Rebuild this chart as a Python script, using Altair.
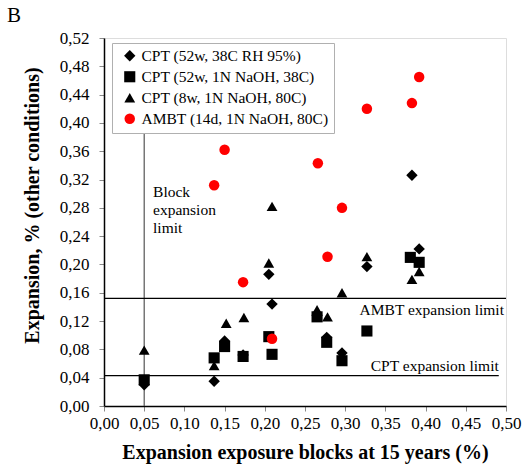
import altair as alt
import pandas as pd

series_names = [
    "CPT (52w, 38C RH 95%)",
    "CPT (52w, 1N NaOH, 38C)",
    "CPT (8w, 1N NaOH, 80C)",
    "AMBT (14d, 1N NaOH, 80C)",
]

# CPT 52w, 38C RH 95% (diamonds)
cpt_rh_x = [0.050, 0.137, 0.150, 0.173, 0.205, 0.209, 0.265, 0.277, 0.296, 0.327, 0.383, 0.392]
cpt_rh_y = [0.030, 0.035, 0.092, 0.072, 0.186, 0.144, 0.128, 0.097, 0.075, 0.197, 0.326, 0.222]

# CPT 52w, 1N NaOH, 38C (squares)
cpt_38_x = [0.050, 0.137, 0.150, 0.173, 0.205, 0.209, 0.265, 0.277, 0.296, 0.327, 0.381, 0.392]
cpt_38_y = [0.037, 0.068, 0.084, 0.070, 0.098, 0.073, 0.126, 0.090, 0.064, 0.106, 0.210, 0.203]

# CPT 8w, 1N NaOH, 80C (triangles)
cpt_80_x = [0.050, 0.137, 0.152, 0.174, 0.205, 0.209, 0.265, 0.278, 0.296, 0.327, 0.383, 0.392]
cpt_80_y = [0.079, 0.057, 0.117, 0.125, 0.202, 0.282, 0.136, 0.126, 0.160, 0.211, 0.179, 0.190]

# AMBT 14d (red circles)
ambt_x = [0.137, 0.150, 0.173, 0.209, 0.215, 0.266, 0.278, 0.296, 0.327, 0.383, 0.392]
ambt_y = [0.312, 0.362, 0.175, 0.095, 0.393, 0.343, 0.211, 0.280, 0.420, 0.428, 0.465]

x_ticks = [0.00, 0.05, 0.10, 0.15, 0.20, 0.25, 0.30, 0.35, 0.40, 0.45, 0.50]
y_ticks = [0.00, 0.04, 0.08, 0.12, 0.16, 0.20, 0.24, 0.28, 0.32, 0.36, 0.40, 0.44, 0.48, 0.52]

ambt_limit = 0.152
cpt_limit = 0.043
block_limit = 0.05

rows = []
idx = 0
for name, xs, ys in zip(series_names,
                        [cpt_rh_x, cpt_38_x, cpt_80_x, ambt_x],
                        [cpt_rh_y, cpt_38_y, cpt_80_y, ambt_y]):
    for xv, yv in zip(xs, ys):
        rows.append({"x": xv, "y": yv, "series": name, "idx": idx})
        idx += 1
df = pd.DataFrame(rows)

FONT = "Liberation Serif"
label_expr = "replace(format(datum.value, '.2f'), '.', ',')"

xscale = alt.Scale(domain=[0, 0.5], nice=False, zero=False)
yscale = alt.Scale(domain=[0, 0.52], nice=False, zero=False)

legend = alt.Legend(
    title=None, orient="none", legendX=8, legendY=5, direction="vertical",
    labelFont=FONT, labelFontSize=15.5, labelColor="black", labelLimit=400,
    strokeColor="#b0b0b0", fillColor="white", padding=5, rowPadding=4,
    symbolSize=100, symbolStrokeWidth=0, symbolOffset=5, labelOffset=4,
    cornerRadius=0,
)

xaxis = alt.Axis(values=x_ticks, labelExpr=label_expr, grid=False,
                 title="Expansion exposure blocks at 15 years (%)",
                 titleFontSize=20, titleFontWeight="bold", titleFont=FONT,
                 titleColor="black", titleY=46, titleBaseline="middle",
                 labelFontSize=17, labelFont=FONT, labelColor="black",
                 labelPadding=4, tickSize=5, tickColor="#8a8a8a",
                 domainColor="black", domainWidth=1.5, labelFlush=False,
                 labelOverlap=False)
yaxis = alt.Axis(values=y_ticks, labelExpr=label_expr, grid=False,
                 title="Expansion, % (other conditions)",
                 titleFontSize=20, titleFontWeight="bold", titleFont=FONT,
                 titleColor="black", titleX=-72, titleY=167, titleAngle=-90,
                 titleBaseline="middle", titleAlign="center",
                 labelFontSize=17, labelFont=FONT, labelColor="black",
                 labelPadding=10, tickSize=5, tickColor="#8a8a8a",
                 domainColor="black", domainWidth=1.5, labelFlush=False,
                 labelOverlap=False)

points = alt.Chart(df).mark_point(filled=True, opacity=1, strokeWidth=0).encode(
    x=alt.X("x:Q", scale=xscale, axis=xaxis),
    y=alt.Y("y:Q", scale=yscale, axis=yaxis),
    shape=alt.Shape("series:N",
                    scale=alt.Scale(domain=series_names,
                                    range=["diamond", "square", "triangle-up", "circle"]),
                    legend=legend),
    color=alt.Color("series:N",
                    scale=alt.Scale(domain=series_names,
                                    range=["black", "black", "black", "#ff0000"]),
                    legend=legend),
    size=alt.Size("series:O",
                  scale=alt.Scale(domain=series_names, range=[130, 110, 140, 175]),
                  legend=None),
    order=alt.Order("idx:Q"),
)

hlines_df = pd.DataFrame({
    "y": [ambt_limit, cpt_limit],
    "x": [0.0, 0.0],
    "x2": [0.5, 0.491],
})
hlines = alt.Chart(hlines_df).mark_rule(color="black", strokeWidth=1.3).encode(
    x=alt.X("x:Q", scale=xscale, axis=xaxis), x2="x2:Q",
    y=alt.Y("y:Q", scale=yscale, axis=yaxis))

vline_df = pd.DataFrame({"x": [block_limit], "y": [0.0], "y2": [0.397]})
vline = alt.Chart(vline_df).mark_rule(color="#555555", strokeWidth=1.2).encode(
    x=alt.X("x:Q", scale=xscale, axis=xaxis),
    y=alt.Y("y:Q", scale=yscale, axis=yaxis), y2="y2:Q")

ann_df = pd.DataFrame({
    "x": [0.4975, 0.491],
    "y": [0.136, 0.057],
    "t": ["AMBT expansion limit", "CPT expansion limit"],
})
ann = alt.Chart(ann_df).mark_text(align="right", baseline="middle", font=FONT,
                                  fontSize=15.5, color="black").encode(
    x=alt.X("x:Q", scale=xscale, axis=xaxis),
    y=alt.Y("y:Q", scale=yscale, axis=yaxis), text="t:N")

block_df = pd.DataFrame({"x": [0.061], "y": [0.312], "t": [["Block", "expansion", "limit"]]})
block = alt.Chart(block_df).mark_text(align="left", baseline="top", font=FONT,
                                      fontSize=15.5, lineHeight=18, color="black").encode(
    x=alt.X("x:Q", scale=xscale, axis=xaxis),
    y=alt.Y("y:Q", scale=yscale, axis=yaxis), text="t")

panel = alt.Chart(pd.DataFrame({"t": ["B"]})).mark_text(
    align="left", baseline="middle", font=FONT, fontSize=21, color="black").encode(
    x=alt.value(-97), y=alt.value(-22), text="t:N")

chart = alt.layer(vline, hlines, ann, block, points, panel).properties(
    width=402, height=368,
    autosize=alt.AutoSizeParams(type="none"),
    padding={"left": 104, "top": 38, "right": 18, "bottom": 62},
).configure_view(
    stroke="#a0a0a0", strokeWidth=1.5
).configure_axis(
    labelOverlap=False
).configure(background="white")

chart.save("out.html", embed_options={"renderer": "svg", "actions": False})
